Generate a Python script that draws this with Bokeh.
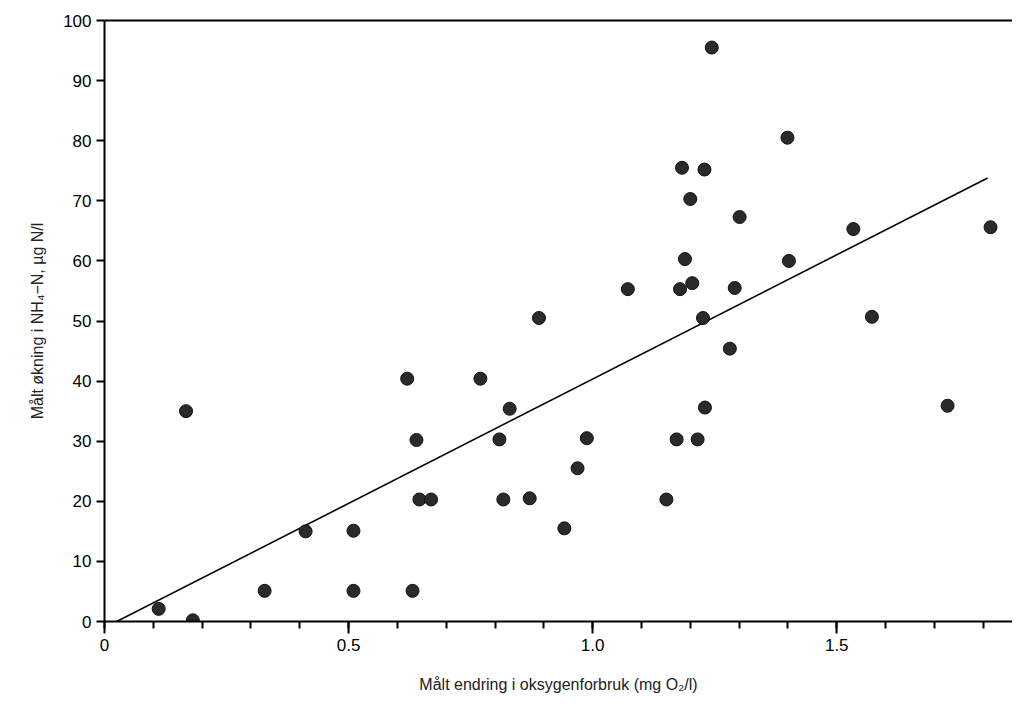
from bokeh.plotting import figure
from bokeh.models import FixedTicker, Range1d, LinearAxis
from bokeh.embed import file_html
from bokeh.resources import INLINE

# measured points
x = [0.111, 0.167, 0.181, 0.328, 0.412, 0.510, 0.510, 0.620, 0.639, 0.631,
     0.645, 0.669, 0.770, 0.830, 0.809, 0.817, 0.871, 0.942, 0.969, 0.988,
     0.890, 1.244, 1.399, 1.183, 1.229, 1.200, 1.301, 1.534, 1.815, 1.189,
     1.402, 1.072, 1.179, 1.204, 1.291, 1.226, 1.572, 1.281, 1.230, 1.727,
     1.172, 1.215, 1.151]
y = [2.1, 35.0, 0.2, 5.1, 15.0, 15.1, 5.1, 40.4, 30.2, 5.1,
     20.3, 20.3, 40.4, 35.4, 30.3, 20.3, 20.5, 15.5, 25.5, 30.5,
     50.5, 95.5, 80.5, 75.5, 75.2, 70.3, 67.3, 65.3, 65.6, 60.3,
     60.0, 55.3, 55.3, 56.3, 55.5, 50.5, 50.7, 45.4, 35.6, 35.9,
     30.3, 30.3, 20.3]

# regression line
fit_x = [0.025, 1.809]
fit_y = [0.0, 73.8]

FONT = "Liberation Sans"

p = figure(width=1012, height=695, output_backend="svg", toolbar_location=None,
           x_range=Range1d(0, 1.86), y_range=Range1d(0, 100),
           min_border_left=104, min_border_right=0, min_border_top=20,
           min_border_bottom=74)
p.outline_line_color = None
p.grid.visible = False
p.background_fill_color = "white"

p.line(fit_x, fit_y, line_color="black", line_width=1.6)
p.scatter(x, y, size=13, fill_color="#2a2a2a", line_color="#111111")

xa = p.xaxis[0]
xa.ticker = FixedTicker(ticks=[0, 0.5, 1.0, 1.5],
                        minor_ticks=[i / 10 for i in range(0, 19)])
xa.major_label_overrides = {0: "0", 0.5: "0.5", 1: "1.0", 1.5: "1.5"}
xa.axis_label = "Målt endring i oksygenforbruk (mg O₂/l)"

ya = p.yaxis[0]
ya.ticker = FixedTicker(ticks=list(range(0, 101, 10)), minor_ticks=[])
ya.axis_label = "Målt økning i NH₄−N, µg N/l"

for ax in (xa, ya):
    ax.axis_line_color = "black"
    ax.axis_line_width = 2
    ax.major_tick_line_color = "black"
    ax.major_tick_line_width = 2
    ax.minor_tick_line_color = "black"
    ax.minor_tick_line_width = 2
    ax.major_tick_in = 0
    ax.minor_tick_in = 0
    ax.major_label_text_font = FONT
    ax.major_label_text_font_size = "17px"
    ax.major_label_text_color = "black"
    ax.axis_label_text_font = FONT
    ax.axis_label_text_font_size = "16px"
    ax.axis_label_text_font_style = "normal"
    ax.axis_label_text_color = "#222222"

xa.major_tick_out = 12
xa.minor_tick_out = 7
xa.axis_label_standoff = 22
ya.major_tick_out = 8
ya.minor_tick_out = 0
ya.axis_label_standoff = 14

top = LinearAxis(ticker=FixedTicker(ticks=[]), major_label_text_font_size="0px",
                 axis_line_color="black", axis_line_width=2)
p.add_layout(top, "above")

open("out.html", "w").write(file_html(p, INLINE))
